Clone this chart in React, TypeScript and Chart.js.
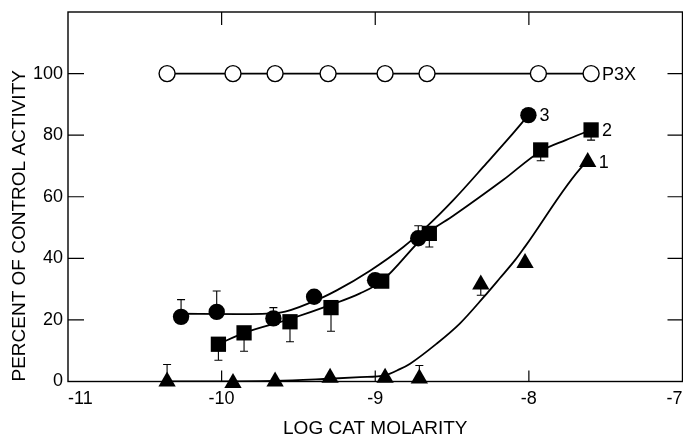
import React, { useEffect, useRef } from 'react';
import { Chart, registerables } from 'chart.js';

Chart.register(...registerables);

// ---- axes ----
const xTickValues = [-11, -10, -9, -8, -7];
const xTickLabels = ['-11', '-10', '-9', '-8', '-7'];
const yTickValues = [0, 20, 40, 60, 80, 100];
const yTickLabels = ['0', '20', '40', '60', '80', '100'];
const xInnerMarks = [-10, -9, -8];
const rightMarks = [20, 40, 60, 80, 100];

// ---- P3X (open circles) ----
const p3xX = [-10.355, -9.926, -9.652, -9.307, -8.936, -8.663, -7.938, -7.595];
const p3xY = [100, 100, 100, 100, 100, 100, 100, 100];

// ---- curve 3 (filled circles) ----
const s3X = [-10.264, -10.032, -9.663, -9.398, -9.001, -8.72, -8.003];
const s3Y = [21.0, 22.6, 20.5, 27.5, 32.9, 46.5, 86.5];
const s3Err = [26.6, 29.4, 24.0, null, null, 50.6, null];
const fit3X = [-10.264, -9.9, -9.62, -9.403, -9.251, -9.034, -8.817, -8.665, -8.492, -8.275, -8.122, -8.003];
const fit3Y = [22.0, 21.9, 22.4, 26.0, 29.6, 36.0, 43.7, 50.3, 58.9, 70.9, 79.5, 86.5];

// ---- curve 2 (filled squares) ----
const s2X = [-10.021, -9.854, -9.555, -9.288, -8.958, -8.648, -7.923, -7.595];
const s2Y = [12.1, 15.8, 19.4, 24.0, 32.6, 48.1, 75.2, 81.7];
const s2Err = [6.9, 9.8, 12.9, 16.3, null, 43.7, 71.7, 78.4];
const fit2X = [-10.021, -9.854, -9.555, -9.294, -9.099, -8.958, -8.665, -8.492, -8.166, -7.923, -7.76, -7.595];
const fit2Y = [12.1, 15.8, 20.3, 24.8, 28.6, 32.6, 47.9, 53.8, 65.5, 74.8, 78.4, 81.7];

// ---- curve 1 (filled triangles) ----
const s1X = [-10.355, -9.926, -9.652, -9.294, -8.936, -8.713, -8.313, -8.025, -7.617];
const s1Y = [0, -0.5, 0, 1.2, 1.2, 1.0, 31.5, 38.5, 71.3];
const s1Err = [5.5, null, null, null, null, 5.2, 28.0, null, null];
const fit1X = [-10.362, -9.65, -9.3, -9.099, -8.936, -8.84, -8.773, -8.6, -8.448, -8.296, -8.188, -8.09, -8.025, -7.645, -7.617];
const fit1Y = [0, 0.2, 0.9, 1.4, 2.0, 4.0, 5.8, 12.3, 18.9, 27.3, 33.6, 39.4, 43.8, 70.3, 71.3];

// ---- end labels ----
const seriesLabels = ['P3X', '3', '2', '1'];

const FONT = "'Liberation Sans', Arial, Helvetica, sans-serif";

const pts = (xs: number[], ys: number[]) => xs.map((x, i) => ({ x, y: ys[i] }));

const errorSets = [
  { xs: s3X, ys: s3Y, err: s3Err },
  { xs: s2X, ys: s2Y, err: s2Err },
  { xs: s1X, ys: s1Y, err: s1Err },
];

const labelAnchors = [
  { xs: p3xX, ys: p3xY },
  { xs: s3X, ys: s3Y },
  { xs: s2X, ys: s2Y },
  { xs: s1X, ys: s1Y },
];

const framePlugin = {
  id: 'frame',
  beforeDatasetsDraw(chart: any) {
    const { ctx, chartArea: a, scales } = chart;
    const xs = scales.x;
    const ys = scales.y;
    ctx.save();
    ctx.strokeStyle = '#000';
    ctx.lineWidth = 1.4;
    ctx.strokeRect(a.left, a.top, a.right - a.left, a.bottom - a.top);
    ctx.lineWidth = 1.2;
    ctx.beginPath();
    yTickValues.forEach((v) => {
      const y = ys.getPixelForValue(v);
      ctx.moveTo(a.left, y);
      ctx.lineTo(a.left + 16, y);
    });
    rightMarks.forEach((v) => {
      const y = ys.getPixelForValue(v);
      ctx.moveTo(a.right, y);
      ctx.lineTo(a.right - 15, y);
    });
    xInnerMarks.forEach((v) => {
      const x = xs.getPixelForValue(v);
      ctx.moveTo(x, a.top);
      ctx.lineTo(x, a.top + 13);
      ctx.moveTo(x, a.bottom);
      ctx.lineTo(x, a.bottom - 11);
    });
    ctx.stroke();

    // error bars
    ctx.lineWidth = 1.1;
    ctx.beginPath();
    errorSets.forEach(({ xs: ex, ys: ey, err }) => {
      err.forEach((e, i) => {
        if (e === null || e === undefined) return;
        const x = xs.getPixelForValue(ex[i]);
        const y0 = ys.getPixelForValue(ey[i]);
        const y1 = ys.getPixelForValue(e);
        ctx.moveTo(x, y0);
        ctx.lineTo(x, y1);
        ctx.moveTo(x - 4, y1);
        ctx.lineTo(x + 4, y1);
      });
    });
    ctx.stroke();
    ctx.restore();
  },
  afterDatasetsDraw(chart: any) {
    const { ctx, scales } = chart;
    ctx.save();
    ctx.fillStyle = '#000';
    ctx.font = `18px ${FONT}`;
    ctx.textAlign = 'left';
    ctx.textBaseline = 'middle';
    labelAnchors.forEach(({ xs: lx, ys: ly }, i) => {
      const n = lx.length - 1;
      const x = scales.x.getPixelForValue(lx[n]);
      const y = scales.y.getPixelForValue(ly[n]);
      ctx.fillText(seriesLabels[i], x + 11, y + 1);
    });
    ctx.restore();
  },
};

export default function App() {
  const ref = useRef<HTMLCanvasElement | null>(null);

  useEffect(() => {
    if (!ref.current) return;
    const lineDs = (xs: number[], ys: number[]) => ({
      data: pts(xs, ys),
      showLine: true,
      borderColor: '#000',
      borderWidth: 1.8,
      pointRadius: 0,
      cubicInterpolationMode: 'monotone',
      fill: false,
      order: 2,
    });
    const chart = new Chart(ref.current, {
      type: 'scatter',
      data: {
        datasets: [
          {
            data: pts(p3xX, p3xY),
            showLine: true,
            borderColor: '#000',
            borderWidth: 1.8,
            pointStyle: 'circle',
            pointRadius: 8,
            pointBorderWidth: 1.4,
            pointBackgroundColor: '#fff',
            pointBorderColor: '#000',
            clip: false,
            order: 0,
          } as any,
          {
            data: pts(s3X, s3Y),
            showLine: false,
            pointStyle: 'circle',
            pointRadius: 8.2,
            pointBorderWidth: 0,
            pointBackgroundColor: '#000',
            pointBorderColor: '#000',
            clip: false,
            order: 0,
          } as any,
          {
            data: pts(s2X, s2Y),
            showLine: false,
            pointStyle: 'rect',
            pointRadius: 10.8,
            pointBorderWidth: 0,
            pointBackgroundColor: '#000',
            pointBorderColor: '#000',
            clip: false,
            order: 0,
          } as any,
          {
            data: pts(s1X, s1Y),
            showLine: false,
            pointStyle: 'triangle',
            pointRadius: 10,
            pointBorderWidth: 0,
            pointBackgroundColor: '#000',
            pointBorderColor: '#000',
            clip: false,
            order: 0,
          } as any,
          lineDs(fit3X, fit3Y) as any,
          lineDs(fit2X, fit2Y) as any,
          lineDs(fit1X, fit1Y) as any,
        ],
      },
      options: {
        animation: false,
        responsive: false,
        devicePixelRatio: 1,
        layout: { padding: { top: 12, right: 17.5, left: 0, bottom: 0 } },
        plugins: { legend: { display: false }, tooltip: { enabled: false } },
        scales: {
          x: {
            type: 'linear',
            position: 'bottom',
            min: -11,
            max: -7,
            grid: { display: false, drawTicks: false },
            border: { display: false },
            afterBuildTicks: (s: any) => {
              s.ticks = xTickValues.map((v) => ({ value: v }));
            },
            afterFit: (s: any) => {
              s.height = 59.5;
              s.paddingLeft = 0;
              s.paddingRight = 0;
            },
            ticks: {
              align: 'inner',
              padding: 7,
              color: '#000',
              maxRotation: 0,
              autoSkip: false,
              font: { family: FONT, size: 18 },
              callback: (v: any) => xTickLabels[xTickValues.indexOf(Number(v))] ?? '',
            },
            title: {
              display: true,
              text: 'LOG CAT MOLARITY',
              color: '#000',
              font: { family: FONT, size: 19 },
              padding: { top: 0, bottom: 1 },
            },
          },
          y: {
            type: 'linear',
            position: 'left',
            min: 0,
            max: 120,
            grid: { display: false, drawTicks: false },
            border: { display: false },
            afterBuildTicks: (s: any) => {
              s.ticks = yTickValues.map((v) => ({ value: v }));
            },
            afterFit: (s: any) => {
              s.width = 68;
              s.paddingTop = 0;
              s.paddingBottom = 0;
            },
            ticks: {
              padding: 5,
              color: '#000',
              autoSkip: false,
              font: { family: FONT, size: 18 },
              callback: (v: any) => yTickLabels[yTickValues.indexOf(Number(v))] ?? '',
            },
            title: {
              display: true,
              text: 'PERCENT OF CONTROL ACTIVITY',
              align: 'start',
              color: '#000',
              font: { family: FONT, size: 19 },
              padding: { top: 8, bottom: 0 },
            },
          },
        },
      } as any,
      plugins: [framePlugin],
    });
    return () => chart.destroy();
  }, []);

  return (
    <div
      style={{
        position: 'fixed',
        left: 0,
        top: 0,
        width: 683,
        height: 441,
        overflow: 'hidden',
        background: '#fff',
      }}
    >
      <canvas ref={ref} width={700} height={441} style={{ display: 'block', width: 700, height: 441 }} />
    </div>
  );
}
